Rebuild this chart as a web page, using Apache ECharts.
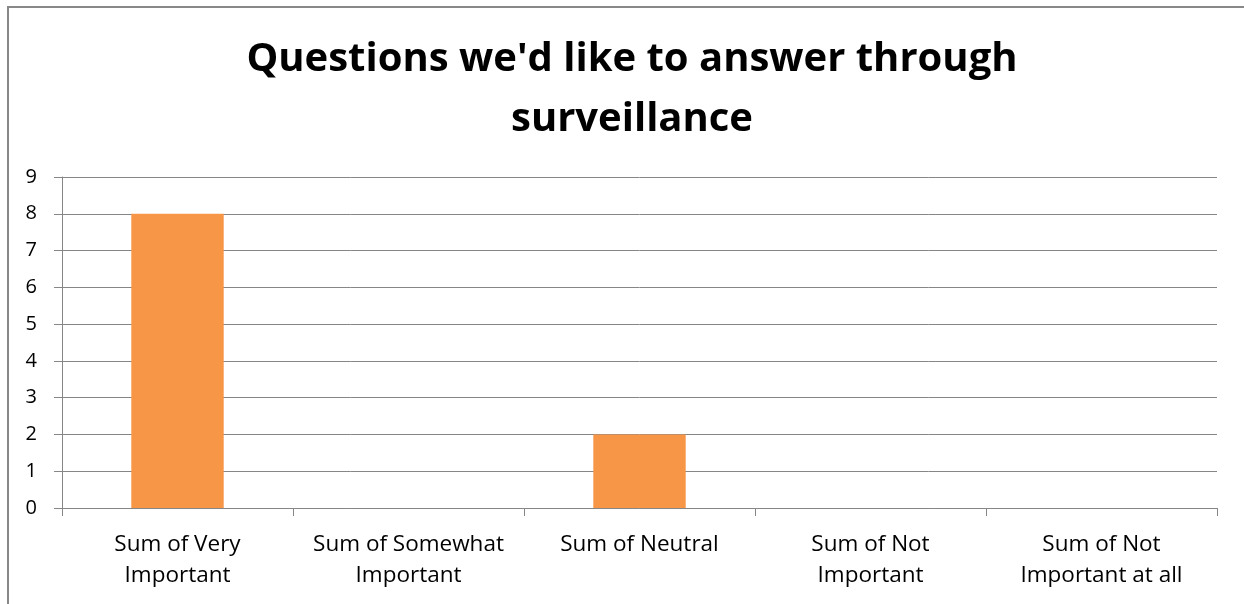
<!DOCTYPE html>
<html><head><meta charset="utf-8">
<script src="https://cdn.jsdelivr.net/npm/echarts@6/dist/echarts.min.js"></script>
<style>
html,body{margin:0;padding:0;background:#fff;overflow:hidden}
#frame{position:absolute;left:7px;top:6px;width:1300px;height:700px;border:2px solid #888;box-sizing:border-box}
#c{position:absolute;left:0;top:0;width:1244px;height:604px}
</style></head>
<body>
<div id="frame"></div>
<div id="c"></div>
<script>
const titleText = "Questions we'd like to answer through\nsurveillance";
const categories = ["Sum of Very\nImportant", "Sum of Somewhat\nImportant", "Sum of Neutral", "Sum of Not\nImportant", "Sum of Not\nImportant at all"];
const values = [8, 0, 2, 0, 0];
const yMin = 0, yMax = 9, yStep = 1;

const chart = echarts.init(document.getElementById('c'));
chart.setOption({
  animation: false,
  title: {
    text: titleText, left: 627, top: 25, textAlign: 'center',
    textStyle: {fontFamily: 'Open Sans', fontWeight: 'bold', fontSize: 40, color: '#000', lineHeight: 60}
  },
  grid: {left: 62, right: 27, top: 177, bottom: 96, containLabel: false},
  xAxis: {
    type: 'category', data: categories,
    axisLine: {lineStyle: {color: '#868686', width: 1}},
    axisTick: {show: true, length: 8, interval: 0, alignWithLabel: false, lineStyle: {color: '#868686'}},
    axisLabel: {interval: 0, fontFamily: 'Open Sans', fontSize: 22.5, color: '#000', margin: 21, lineHeight: 31}
  },
  yAxis: {
    type: 'value', min: yMin, max: yMax, interval: yStep,
    axisLine: {show: true, lineStyle: {color: '#868686', width: 1}},
    axisTick: {show: true, length: 8, lineStyle: {color: '#868686'}},
    splitLine: {lineStyle: {color: '#868686', width: 1}},
    axisLabel: {fontFamily: 'Open Sans', fontSize: 20, color: '#000', margin: 25}
  },
  series: [{
    type: 'bar', data: values, barWidth: '40%',
    itemStyle: {color: '#F79646'}
  }]
});
</script>
</body></html>
